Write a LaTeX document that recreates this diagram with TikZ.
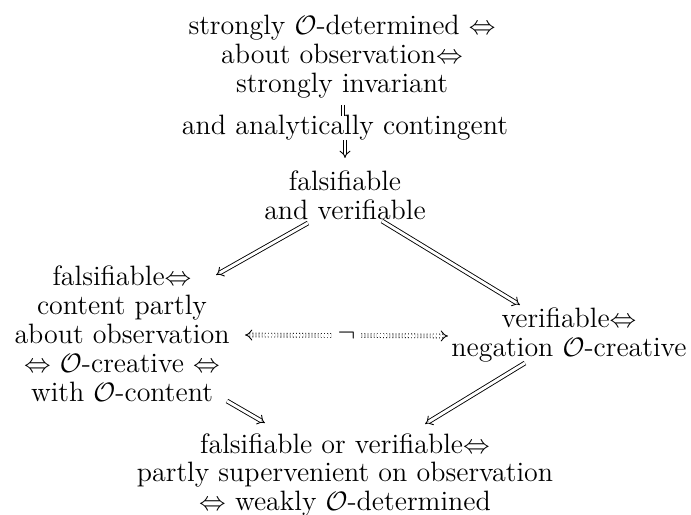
\documentclass[tikz,border=0pt]{standalone}
\usepackage{amsmath}
\usetikzlibrary{arrows.meta,positioning}
\newcommand{\Ob}{$\mathcal{O}$}

\begin{document}
\begin{tikzpicture}[x=0.45pt,y=-0.45pt,
                    >={Implies},
                    every node/.style={align=center, font=\fontsize{12.6}{13}\selectfont, inner sep=0pt},
                    imp/.style={double, double distance=1.3pt, thin},
                    neg/.style={double, double distance=1.3pt, thin, densely dotted}]

                \useasboundingbox (0,0) rectangle (691,515);

                \node (top) at (342,57) {strongly \Ob-determined $\Leftrightarrow$\\about observation$\Leftrightarrow$\\strongly invariant};
                \node (lbl) at (345,128) {and analytically contingent};
                \node (mid) at (345,195) {falsifiable\\and verifiable};
                \node (left) at (122,334) {falsifiable$\Leftrightarrow$\\content partly\\about observation\\$\Leftrightarrow$ \Ob-creative $\Leftrightarrow$\\with \Ob-content};
                \node (right) at (569,335) {verifiable$\Leftrightarrow$\\negation \Ob-creative};
                \node (bot) at (345,475) {falsifiable or verifiable$\Leftrightarrow$\\partly supervenient on observation\\$\Leftrightarrow$ weakly \Ob-determined};

                \draw[imp] ([shift={(1,48)}]top.center) -- ([shift={(-2,-12)}]lbl.center);
                \draw[imp,->] ([shift={(0,12)}]lbl.center) -- ([shift={(0,-37)}]mid.center);
                \draw[imp,->] ([shift={(-37,28)}]mid.center) -- ([shift={(94,-59)}]left.center);
                \draw[imp,->] ([shift={(37,26)}]mid.center) -- ([shift={(-49,-30)}]right.center);
                \draw[neg,<->] ([shift={(123,1)}]left.center) -- ([shift={(-121,1)}]right.center)
                    node[midway, fill=white, inner sep=2pt] {$\neg$};
                \draw[imp,->] ([shift={(105,67)}]left.center) -- ([shift={(-80,-52)}]bot.center);
                \draw[imp,->] ([shift={(-44,28)}]right.center) -- ([shift={(80,-51)}]bot.center);

            \end{tikzpicture}
\end{document}
